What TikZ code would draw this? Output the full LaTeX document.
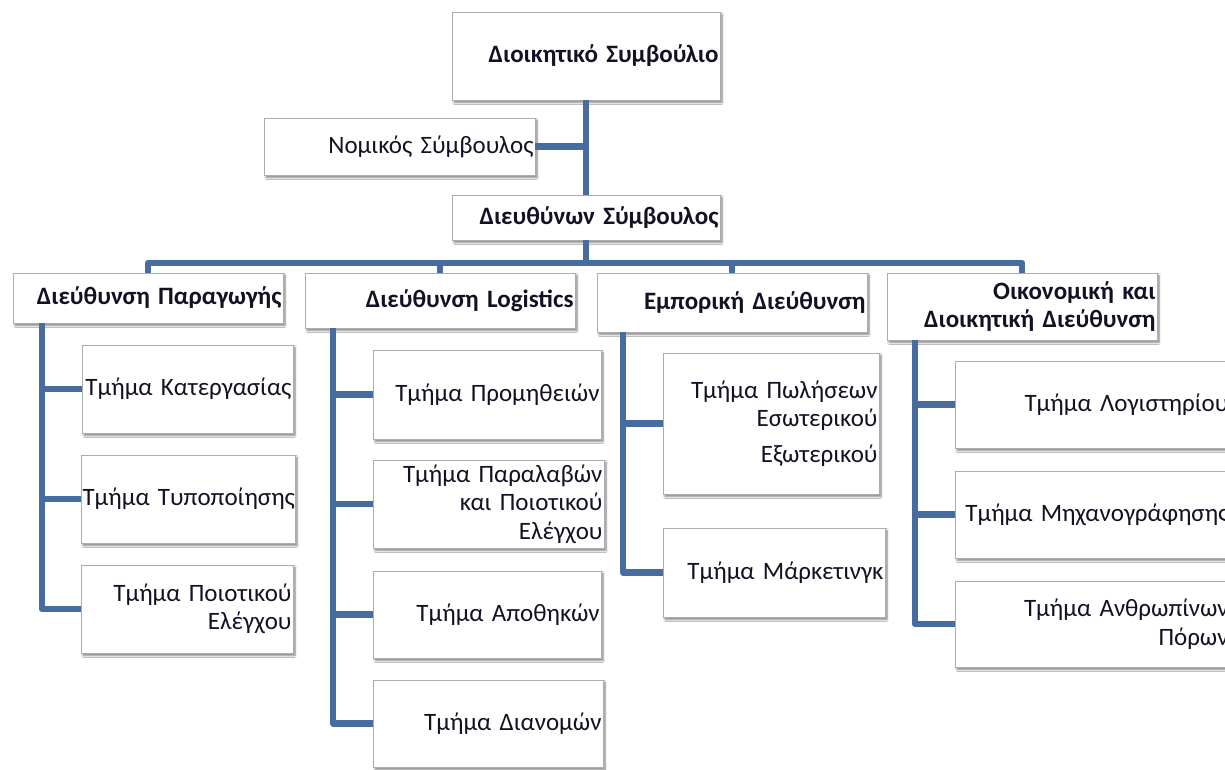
\documentclass[tikz,border=0pt]{standalone}
\usepackage{fontspec}
\setmainfont{Carlito}
\usetikzlibrary{shadows.blur}
\definecolor{linkblue}{RGB}{70,108,160}
\definecolor{boxline}{RGB}{172,172,172}
\definecolor{inktext}{RGB}{18,18,36}
\begin{document}
\begin{tikzpicture}[x=1pt,y=-1pt,
  unit/.style={draw=boxline, line width=0.9pt, fill=white, inner xsep=1pt, inner ysep=0pt,
    align=right, text=inktext, font=\fontsize{25}{28.5}\selectfont,
    blur shadow={shadow xshift=2pt, shadow yshift=-2.5pt, shadow blur steps=6, shadow opacity=50}},
  head/.style={unit, font=\bfseries\fontsize{25}{28.5}\selectfont},
  link/.style={draw=linkblue, line width=6.5pt, line join=round}]
\clip (0,0) rectangle (1225,769);
\fill[white] (0,0) rectangle (1225,769);

% top of the hierarchy
\node[head, minimum width=268pt, text width=265pt, minimum height=88pt] (board) at (586,56) {Διοικητικό Συμβούλιο};
\node[unit, minimum width=271pt, text width=268pt, minimum height=57pt] (legal) at (399.5,146.5) {Νομικός Σύμβουλος};
\node[head, minimum width=268pt, text width=265pt, minimum height=45pt] (ceo) at (586,217.5) {Διευθύνων Σύμβουλος};

% directorates
\node[head, minimum width=270pt, text width=267pt, minimum height=50pt] (prod) at (148,298) {Διεύθυνση Παραγωγής};
\node[head, minimum width=270pt, text width=267pt, minimum height=55pt] (logi) at (440,300.5) {Διεύθυνση Logistics};
\node[head, minimum width=270pt, text width=267pt, minimum height=59pt] (comm) at (732,302.5) {Εμπορική Διεύθυνση};
\node[head, minimum width=270pt, text width=267pt, minimum height=67pt] (fin) at (1022,306.5) {Οικονομική και\\Διοικητική Διεύθυνση};

% production departments
\node[unit, minimum width=211pt, text width=208pt, minimum height=88pt] (p1) at (187.5,389) {Τμήμα Κατεργασίας};
\node[unit, minimum width=214pt, text width=211pt, minimum height=88pt] (p2) at (188,499) {Τμήμα~Τυποποίησης};
\node[unit, minimum width=212pt, text width=209pt, minimum height=88pt] (p3) at (187,609) {Τμήμα Ποιοτικού\\Ελέγχου};

% logistics departments
\node[unit, minimum width=228pt, text width=225pt, minimum height=89pt] (l1) at (487,394.5) {Τμήμα Προμηθειών};
\node[unit, minimum width=231pt, text width=228pt, minimum height=88pt] (l2) at (488.5,504) {Τμήμα Παραλαβών\\και Ποιοτικού\\Ελέγχου};
\node[unit, minimum width=228pt, text width=225pt, minimum height=87pt] (l3) at (487,614.5) {Τμήμα Αποθηκών};
\node[unit, minimum width=230pt, text width=227pt, minimum height=87pt] (l4) at (488,723.5) {Τμήμα Διανομών};

% commercial departments
\node[unit, minimum width=216pt, text width=213pt, minimum height=141pt] (c1) at (771,423.5) {Τμήμα Πωλήσεων\\Εσωτερικού\\[7pt]Εξωτερικού};
\node[unit, minimum width=222pt, text width=219pt, minimum height=89pt] (c2) at (774,572.5) {Τμήμα Μάρκετινγκ};

% finance and administration departments
\node[unit, minimum width=275pt, text width=272pt, minimum height=87pt] (f1) at (1092.5,404.5) {Τμήμα Λογιστηρίου};
\node[unit, minimum width=275pt, text width=272pt, minimum height=87pt] (f2) at (1092.5,514.5) {Τμήμα Μηχανογράφησης};
\node[unit, minimum width=275pt, text width=272pt, minimum height=86pt] (f3) at (1092.5,624) {Τμήμα Ανθρωπίνων\\Πόρων};

% connectors
\coordinate (bus) at (586,263);
\coordinate (pspine) at (42,0);
\coordinate (lspine) at (333,0);
\coordinate (cspine) at (623,0);
\coordinate (fspine) at (915,0);

\draw[link] (board.south) -- (ceo.north);
\draw[link] (legal.east) -- (legal.east -| board.south);
\draw[link] (ceo.south) -- (bus);
\draw[link] (prod.north) |- (bus) -| (fin.north);
\draw[link] (logi.north) -- (logi.north |- bus);
\draw[link] (comm.north) -- (comm.north |- bus);

\draw[link] (prod.south -| pspine) |- (p3.west);
\draw[link] (pspine |- p1.west) -- (p1.west);
\draw[link] (pspine |- p2.west) -- (p2.west);

\draw[link] (logi.south -| lspine) |- (l4.west);
\draw[link] (lspine |- l1.west) -- (l1.west);
\draw[link] (lspine |- l2.west) -- (l2.west);
\draw[link] (lspine |- l3.west) -- (l3.west);

\draw[link] (comm.south -| cspine) |- (c2.west);
\draw[link] (cspine |- c1.west) -- (c1.west);

\draw[link] (fin.south -| fspine) |- (f3.west);
\draw[link] (fspine |- f1.west) -- (f1.west);
\draw[link] (fspine |- f2.west) -- (f2.west);
\end{tikzpicture}
\end{document}
